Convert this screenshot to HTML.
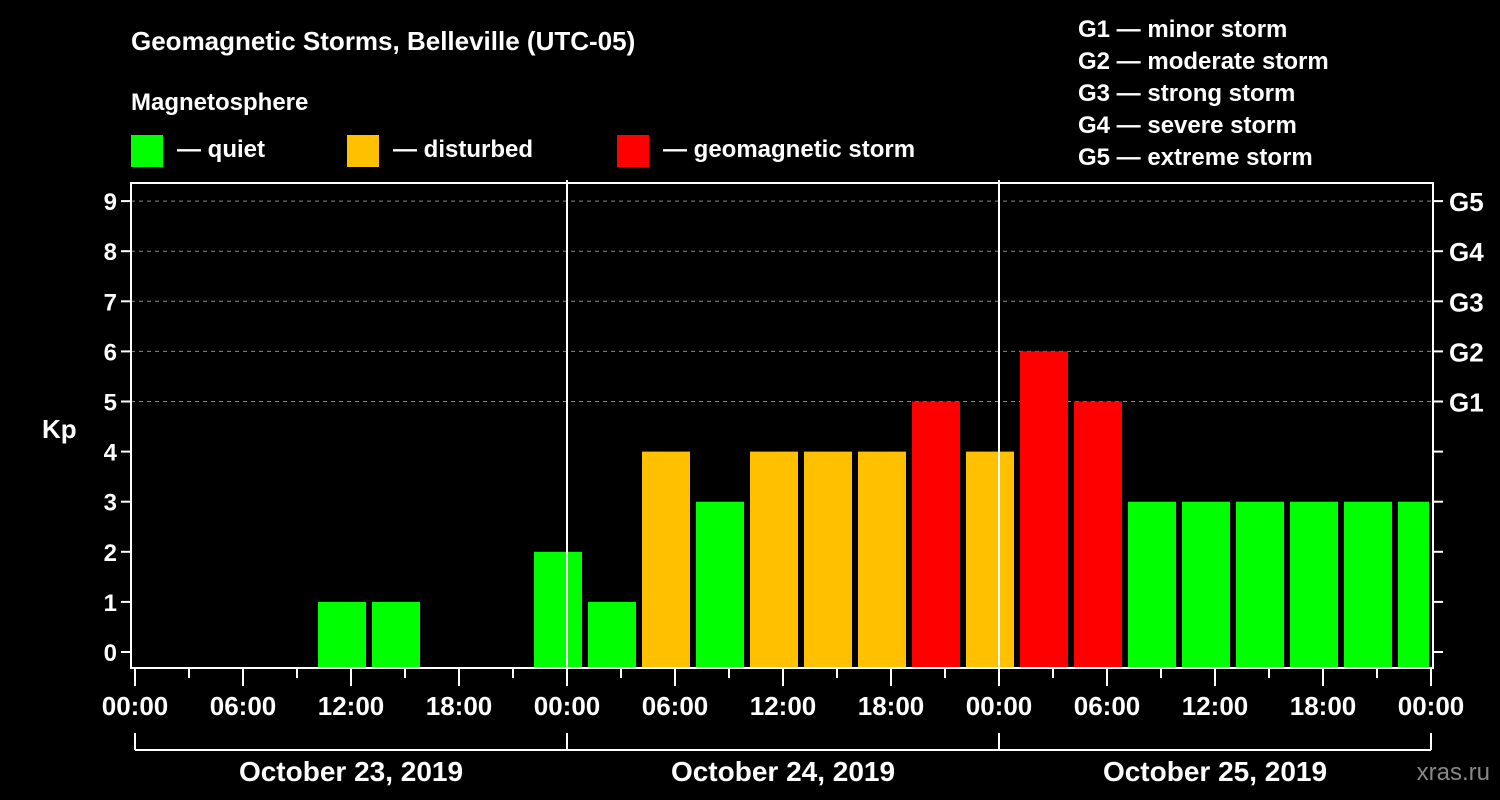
<!DOCTYPE html>
<html><head><meta charset="utf-8"><style>
html,body{margin:0;padding:0;background:#000;}
svg{display:block;font-family:"Liberation Sans",Arial,sans-serif;font-weight:bold;}
</style></head><body>
<svg id="chart" width="1500" height="800" xmlns="http://www.w3.org/2000/svg">
<text x="131" y="50" fill="#fff" font-size="26">Geomagnetic Storms, Belleville (UTC-05)</text>
<text x="131" y="110" fill="#fff" font-size="24">Magnetosphere</text>
<g><rect x="131" y="135" width="32" height="32" fill="#00ff00"/><text x="177" y="157" fill="#fff" font-size="24">— quiet</text></g>
<g><rect x="347" y="135" width="32" height="32" fill="#ffc000"/><text x="393" y="157" fill="#fff" font-size="24">— disturbed</text></g>
<g><rect x="617" y="135" width="32" height="32" fill="#ff0000"/><text x="663" y="157" fill="#fff" font-size="24">— geomagnetic storm</text></g>
<g fill="#fff" font-size="24">
<text x="1078" y="37">G1 — minor storm</text>
<text x="1078" y="69">G2 — moderate storm</text>
<text x="1078" y="101">G3 — strong storm</text>
<text x="1078" y="133">G4 — severe storm</text>
<text x="1078" y="165">G5 — extreme storm</text>
</g>
<text x="42" y="438" fill="#fff" font-size="26">Kp</text>
<g id="grid"></g><g id="bars"></g><g id="axes"></g>
<text x="1490" y="780" fill="#888" font-size="24" text-anchor="end" font-weight="normal">xras.ru</text>
</svg>
<script>
const dayLabels = ["October 23, 2019","October 24, 2019","October 25, 2019"];
const timeLabels = ["00:00","06:00","12:00","18:00","00:00","06:00","12:00","18:00","00:00","06:00","12:00","18:00","00:00"];
const slotStartHours = [1,4,7,10,13,16,19,22,25,28,31,34,37,40,43,46,49,52,55,58,61,64,67,70];
const kpValues = [0,0,0,1,1,0,0,2, 1,4,3,4,4,4,5,4, 6,5,3,3,3,3,3,3];
const gLabels = ["G1","G2","G3","G4","G5"];

const NS="http://www.w3.org/2000/svg";
const X0=135, PXH=18, Y0=652, PXU=50.1, BOTTOM=668, LEFT=131, RIGHT=1433, TOP=183;
const xs=h=>X0+h*PXH, ys=v=>Y0-v*PXU;
function mk(tag,attrs,parent){const e=document.createElementNS(NS,tag);for(const k in attrs)e.setAttribute(k,attrs[k]);parent.appendChild(e);return e;}
const grid=document.getElementById('grid'),bars=document.getElementById('bars'),axes=document.getElementById('axes');
for(let v=5;v<=9;v++){const l=mk('line',{x1:LEFT,x2:RIGHT,y1:ys(v),y2:ys(v),stroke:'#888','stroke-width':1,'stroke-dasharray':'4,4'},grid);

}
const clip=mk('clipPath',{id:'pc'},document.getElementById('chart'));mk('rect',{x:LEFT,y:TOP,width:RIGHT-LEFT-4,height:BOTTOM-TOP},clip);
bars.setAttribute('clip-path','url(#pc)');
kpValues.forEach((v,i)=>{if(v<=0)return;const c=v>=5?'#ff0000':(v>=4?'#ffc000':'#00ff00');
const r=mk('rect',{x:xs(slotStartHours[i])+3,y:ys(v),width:48,height:BOTTOM-ys(v),fill:c},bars);

});
// day separators
[1,2].forEach(d=>{const l=mk('line',{x1:xs(d*24),x2:xs(d*24),y1:180,y2:BOTTOM,stroke:'#fff','stroke-width':2},axes);

});
const frame=mk('rect',{x:LEFT,y:TOP,width:RIGHT-LEFT,height:BOTTOM-TOP,fill:'none',stroke:'#fff','stroke-width':2},axes);


for(let v=0;v<=9;v++){
mk('line',{x1:LEFT-10,x2:LEFT,y1:ys(v),y2:ys(v),stroke:'#fff','stroke-width':2},axes);
mk('line',{x1:RIGHT,x2:RIGHT+10,y1:ys(v),y2:ys(v),stroke:'#fff','stroke-width':2},axes);
const t=mk('text',{x:LEFT-14,y:ys(v)+9,fill:'#fff','font-size':24,'text-anchor':'end'},axes);t.textContent=v;

}
gLabels.forEach((g,i)=>{const t=mk('text',{x:1449,y:ys(5+i)+10,fill:'#fff','font-size':26},axes);t.textContent=g;

});
for(let h=0;h<=72;h+=3){mk('line',{x1:xs(h),x2:xs(h),y1:BOTTOM,y2:h%6?678:686,stroke:'#fff','stroke-width':2},axes);}
timeLabels.forEach((s,i)=>{const t=mk('text',{x:xs(i*6),y:715,fill:'#fff','font-size':26,'text-anchor':'middle'},axes);t.textContent=s;

});
mk('line',{x1:xs(0),x2:xs(72),y1:750,y2:750,stroke:'#fff','stroke-width':2},axes);
for(let d=0;d<=3;d++)mk('line',{x1:xs(d*24),x2:xs(d*24),y1:733,y2:750,stroke:'#fff','stroke-width':2},axes);
dayLabels.forEach((s,i)=>{const t=mk('text',{x:xs(i*24+12),y:781,fill:'#fff','font-size':28,'text-anchor':'middle'},axes);t.textContent=s;

});
</script>
</body></html>
